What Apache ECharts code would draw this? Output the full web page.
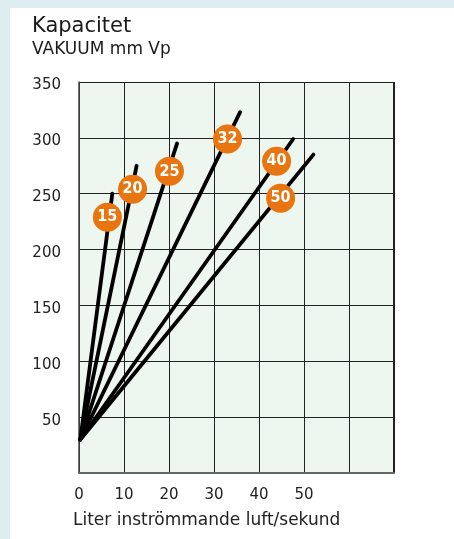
<!doctype html>
<html lang="sv">
<head>
<meta charset="utf-8">
<title>Kapacitet</title>
<script src="https://cdn.jsdelivr.net/npm/echarts@6/dist/echarts.min.js"></script>
<style>
  html, body { margin: 0; padding: 0; background: #fff; }
  #chart { width: 454px; height: 539px; }
</style>
</head>
<body>
<div id="chart"></div>
<script>
// pump sizes and their curves (start point -> end point, in l/s and mm Vp)
var sizes   = ['15', '20', '25', '32', '40', '50'];
var startX  = [0.3, 0.3, 0.3, 0.3, 0.3, 0.3];
var startY  = [30, 30, 30, 30, 30, 30];
var endX    = [7.4, 12.8, 21.8, 35.8, 47.6, 52.1];
var endY    = [250, 275, 295, 323, 299, 285];
// where the round orange labels sit
var badgeX  = [6.3, 11.9, 20.1, 33.0, 43.9, 44.8];
var badgeY  = [229, 254, 270, 299, 279, 246];

var xTicks = [0, 10, 20, 30, 40, 50];
var yTicks = [50, 100, 150, 200, 250, 300, 350];

var FONT = '"DejaVu Sans"';
var chart = echarts.init(document.getElementById('chart'));

var series = [];
for (var i = 0; i < sizes.length; i++) {
  series.push({
    type: 'line',
    name: sizes[i],
    data: [[startX[i], startY[i]], [endX[i], endY[i]]],
    symbol: 'none',
    silent: true,
    z: 3,
    lineStyle: { color: '#000', width: 3.8, cap: 'round' }
  });
}
var badges = [];
for (var j = 0; j < sizes.length; j++) badges.push({ value: [badgeX[j], badgeY[j]], name: sizes[j] });
series.push({
  type: 'scatter',
  data: badges,
  symbol: 'circle',
  symbolSize: 29,
  z: 5,
  itemStyle: { color: '#e8750f', opacity: 1 },
  label: {
    show: true, position: 'inside', formatter: '{b}',
    color: '#fff', fontSize: 16, fontWeight: 'bold', fontFamily: '"DejaVu Sans Condensed"'
  }
});

var option = {
  animation: false,
  backgroundColor: '#fff',
  graphic: [
    { type: 'rect', shape: { x: 0, y: 0, width: 454, height: 8 }, style: { fill: '#deedf2' }, silent: true },
    { type: 'rect', shape: { x: 0, y: 0, width: 10, height: 539 }, style: { fill: '#deedf2' }, silent: true },
    { type: 'text', left: 32, top: 16, style: { text: 'Kapacitet', fill: '#1a1a1a', font: '21px ' + FONT } },
    { type: 'text', left: 32, top: 41, style: { text: 'VAKUUM mm Vp', fill: '#1a1a1a', font: '17px ' + FONT } },
    { type: 'text', left: 73, top: 512, style: { text: 'Liter inströmmande luft/sekund', fill: '#222', font: '17px ' + FONT } },
    // darker right/bottom frame edge
    { type: 'rect', shape: { x: 393, y: 82, width: 2, height: 392 }, style: { fill: '#222' }, silent: true, z: 10 },
    { type: 'rect', shape: { x: 79, y: 472, width: 316, height: 2 }, style: { fill: '#666' }, silent: true, z: 10 }
  ],
  grid: {
    left: 79, top: 82, width: 315, height: 391,
    outerBoundsMode: 'none', containLabel: false,
    show: true, backgroundColor: '#edf6ef', borderWidth: 0
  },
  xAxis: {
    type: 'value', min: 0, max: 70, interval: 10,
    axisLine: { show: true, onZero: false, lineStyle: { color: '#444', width: 1.5 } },
    axisTick: { show: false },
    splitLine: { show: true, lineStyle: { color: '#222', width: 1 } },
    axisLabel: {
      color: '#222', fontSize: 15, fontFamily: FONT, margin: 15,
      formatter: function (v) { return xTicks.indexOf(v) >= 0 ? String(v) : ''; }
    }
  },
  yAxis: {
    type: 'value', min: 0, max: 350, interval: 50,
    axisLine: { show: true, lineStyle: { color: '#444', width: 1.5 } },
    axisTick: { show: false },
    splitLine: { show: true, lineStyle: { color: '#222', width: 1 } },
    axisLabel: {
      color: '#222', fontSize: 15, fontFamily: FONT, margin: 18,
      verticalAlign: 'top', padding: [-4, 0, 0, 0],
      formatter: function (v) { return yTicks.indexOf(v) >= 0 ? String(v) : ''; }
    }
  },
  series: series
};
chart.setOption(option);
</script>
</body>
</html>
